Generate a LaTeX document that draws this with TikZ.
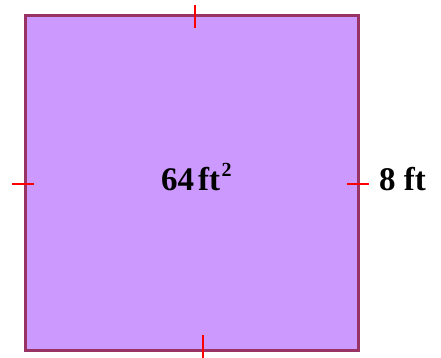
\documentclass[tikz,border=0pt]{standalone}
\usepackage{fontspec}
\setmainfont{Liberation Serif}
\definecolor{sqfill}{HTML}{CC99FF}
\definecolor{sqline}{HTML}{993366}
\definecolor{tickred}{HTML}{FF0000}
\begin{document}
\begin{tikzpicture}[x=1pt,y=-1pt,
  tick/.style={draw=tickred,line width=2pt},
  lbl/.style={inner sep=0pt,anchor=base west,font=\fontsize{33}{33}\selectfont\bfseries}]
\useasboundingbox (0,0) rectangle (441,358);
\node[draw=sqline,fill=sqfill,line width=3pt,minimum width=333pt,minimum height=334pt,inner sep=0pt,anchor=north west] (sq) at (24,14.5) {};
\draw[tick] (195,5) -- (195,28);
\draw[tick] (203,335) -- (203,358);
\draw[tick] (12,184) -- (34,184);
\draw[tick] (347,184) -- (369,184);
\node[lbl] (area) at (161,190) {64\kern4pt{}ft\kern1.5pt{}\raisebox{14pt}{\fontsize{20}{20}\selectfont 2}};
\node[lbl] (side) at (379,190) {8 ft};
\end{tikzpicture}
\end{document}
